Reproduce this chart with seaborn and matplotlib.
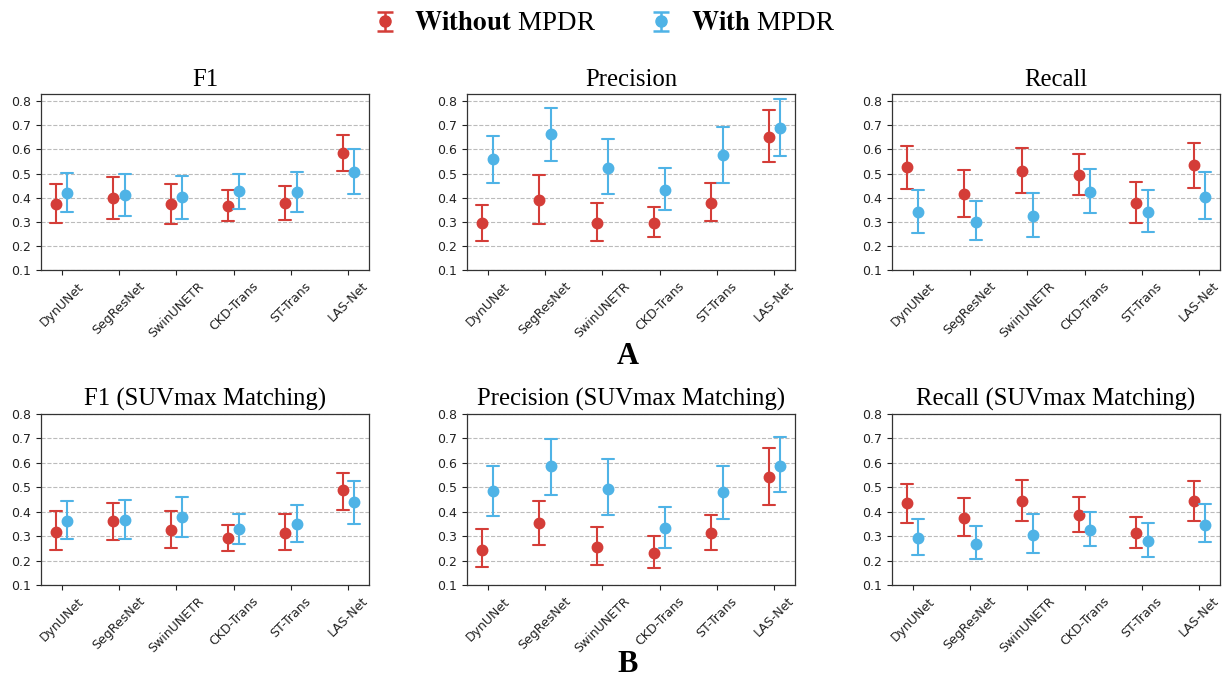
import numpy as np
import pandas as pd
import seaborn as sns
import matplotlib.pyplot as plt
from matplotlib.legend_handler import HandlerErrorbar

# models on the x axis
models = ['DynUNet', 'SegResNet', 'SwinUNETR', 'CKD-Trans', 'ST-Trans', 'LAS-Net']
groups = ['Without MPDR', 'With MPDR']

# ---- A: standard metrics (mean, low, high) ----
f1_wo = [0.375, 0.400, 0.372, 0.367, 0.377, 0.587]
f1_wo_lo = [0.294, 0.313, 0.290, 0.305, 0.307, 0.510]
f1_wo_hi = [0.458, 0.487, 0.456, 0.430, 0.447, 0.660]
f1_w = [0.419, 0.413, 0.402, 0.427, 0.425, 0.508]
f1_w_lo = [0.339, 0.326, 0.313, 0.355, 0.340, 0.416]
f1_w_hi = [0.504, 0.500, 0.491, 0.500, 0.508, 0.600]

prec_wo = [0.293, 0.390, 0.293, 0.293, 0.379, 0.651]
prec_wo_lo = [0.220, 0.292, 0.219, 0.235, 0.303, 0.546]
prec_wo_hi = [0.369, 0.492, 0.379, 0.361, 0.462, 0.762]
prec_w = [0.559, 0.666, 0.524, 0.433, 0.577, 0.690]
prec_w_lo = [0.460, 0.552, 0.415, 0.350, 0.459, 0.571]
prec_w_hi = [0.655, 0.773, 0.645, 0.523, 0.693, 0.810]

rec_wo = [0.527, 0.415, 0.512, 0.493, 0.378, 0.534]
rec_wo_lo = [0.434, 0.320, 0.418, 0.410, 0.296, 0.441]
rec_wo_hi = [0.615, 0.514, 0.608, 0.580, 0.467, 0.626]
rec_w = [0.339, 0.300, 0.326, 0.424, 0.339, 0.403]
rec_w_lo = [0.255, 0.224, 0.237, 0.336, 0.256, 0.312]
rec_w_hi = [0.430, 0.385, 0.420, 0.520, 0.431, 0.505]

# ---- B: SUVmax matching ----
f1s_wo = [0.317, 0.363, 0.325, 0.292, 0.314, 0.487]
f1s_wo_lo = [0.243, 0.285, 0.252, 0.241, 0.243, 0.407]
f1s_wo_hi = [0.402, 0.436, 0.402, 0.344, 0.389, 0.560]
f1s_w = [0.363, 0.367, 0.377, 0.329, 0.351, 0.439]
f1s_w_lo = [0.287, 0.290, 0.295, 0.269, 0.278, 0.350]
f1s_w_hi = [0.443, 0.446, 0.460, 0.392, 0.428, 0.524]

precs_wo = [0.245, 0.352, 0.254, 0.232, 0.313, 0.542]
precs_wo_lo = [0.175, 0.265, 0.182, 0.169, 0.243, 0.429]
precs_wo_hi = [0.329, 0.445, 0.336, 0.300, 0.388, 0.662]
precs_w = [0.485, 0.587, 0.495, 0.332, 0.479, 0.588]
precs_w_lo = [0.381, 0.470, 0.385, 0.251, 0.372, 0.481]
precs_w_hi = [0.588, 0.697, 0.614, 0.418, 0.588, 0.705]

recs_wo = [0.435, 0.374, 0.443, 0.388, 0.311, 0.443]
recs_wo_lo = [0.354, 0.299, 0.361, 0.317, 0.250, 0.363]
recs_wo_hi = [0.514, 0.457, 0.528, 0.459, 0.377, 0.525]
recs_w = [0.292, 0.267, 0.304, 0.325, 0.280, 0.347]
recs_w_lo = [0.222, 0.206, 0.229, 0.258, 0.215, 0.274]
recs_w_hi = [0.369, 0.340, 0.391, 0.400, 0.354, 0.430]

panels = [
    ('F1', (f1_wo, f1_wo_lo, f1_wo_hi), (f1_w, f1_w_lo, f1_w_hi)),
    ('Precision', (prec_wo, prec_wo_lo, prec_wo_hi), (prec_w, prec_w_lo, prec_w_hi)),
    ('Recall', (rec_wo, rec_wo_lo, rec_wo_hi), (rec_w, rec_w_lo, rec_w_hi)),
    ('F1 (SUVmax Matching)', (f1s_wo, f1s_wo_lo, f1s_wo_hi), (f1s_w, f1s_w_lo, f1s_w_hi)),
    ('Precision (SUVmax Matching)', (precs_wo, precs_wo_lo, precs_wo_hi), (precs_w, precs_w_lo, precs_w_hi)),
    ('Recall (SUVmax Matching)', (recs_wo, recs_wo_lo, recs_wo_hi), (recs_w, recs_w_lo, recs_w_hi)),
]

RED = '#d43d38'
BLUE = '#4fb3e6'

sns.set_style('ticks')
plt.rcParams['font.family'] = ['DejaVu Sans']
plt.rcParams['mathtext.fontset'] = 'stix'
plt.rcParams['text.color'] = 'black'
plt.rcParams['xtick.color'] = '#222222'
plt.rcParams['ytick.color'] = '#222222'


def long_table(wo, w):
    # three rows per model/group: low, mean, high -> median gives the mean, min/max give the bar
    rows = []
    for name, (mean, lo, hi) in zip(groups, [wo, w]):
        for m, a, b, c in zip(models, lo, mean, hi):
            for v in (a, b, c):
                rows.append({'model': m, 'group': name, 'value': v})
    return pd.DataFrame(rows)


fig = plt.figure(figsize=(12.24, 6.8), dpi=100)
lefts = [41, 467, 892]
axes = []
for i, (title, wo, w) in enumerate(panels):
    row, col = divmod(i, 3)
    if row == 0:
        rect = [lefts[col] / 1224, 1 - 270 / 680, 328 / 1224, 176 / 680]
    else:
        rect = [lefts[col] / 1224, 1 - 585 / 680, 328 / 1224, 171 / 680]
    ax = fig.add_axes(rect)
    df = long_table(wo, w)
    sns.pointplot(data=df, x='model', y='value', hue='group', order=models,
                  hue_order=groups, palette=[RED, BLUE], estimator='median',
                  errorbar=lambda v: (v.min(), v.max()), dodge=0.2,
                  linestyle='none', markersize=6.5, capsize=0.21,
                  err_kws={'linewidth': 1.5}, legend=False, ax=ax)
    ax.set_xlim(-0.36, 5.36)
    ax.set_ylim(0.1, 0.83 if row == 0 else 0.8)
    ax.set_yticks(np.arange(0.1, 0.81, 0.1))
    ax.yaxis.grid(True, linestyle='--', color='#bbbbbb', linewidth=0.8)
    ax.set_axisbelow(True)
    ax.set_xlabel('')
    ax.set_ylabel('')
    ax.tick_params(axis='x', labelrotation=45, labelsize=9, length=3.5)
    ax.tick_params(axis='y', labelsize=9, length=3.5)
    for s in ax.spines.values():
        s.set_color('#333333')
        s.set_linewidth(0.9)
    ax.set_title(title, fontsize=17.8, family='Liberation Serif', pad=6, color='black')
    axes.append(ax)

# legend with errorbar style handles
hs = []
for c in (RED, BLUE):
    hs.append(axes[0].errorbar([np.nan], [np.nan], yerr=[np.nan], fmt='o', color=c,
                               markersize=8, capsize=6, elinewidth=1.8, capthick=1.8))
fig.legend(hs, [r'$\mathbf{Without}$ MPDR', r'$\mathbf{With}$ MPDR'],
           loc='center', bbox_to_anchor=(602 / 1224, 1 - 24 / 680), ncol=2, frameon=False,
           prop={'family': 'Liberation Serif', 'size': 19.5}, columnspacing=1.8,
           handletextpad=0.5, handlelength=1.2,
           handler_map={type(hs[0]): HandlerErrorbar(xerr_size=0.0, yerr_size=0.35)})

fig.text(628 / 1224, 1 - 357 / 680, 'A', ha='center', va='center', fontsize=22,
         fontweight='bold', family='Liberation Serif')
fig.text(628 / 1224, 1 - 665 / 680, 'B', ha='center', va='center', fontsize=22,
         fontweight='bold', family='Liberation Serif')

fig.savefig('out.png', dpi=100)
